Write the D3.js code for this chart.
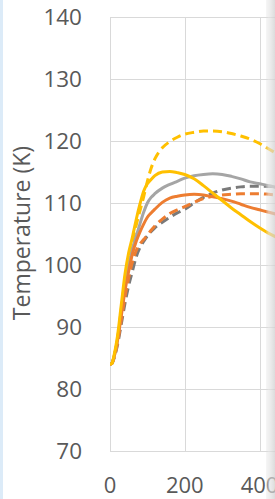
<!DOCTYPE html>
<html><head><meta charset="utf-8">
<script src="https://cdn.jsdelivr.net/npm/d3@7"></script>
<style>html,body{margin:0;padding:0;background:#fff;overflow:hidden}</style>
</head><body>
<svg id="c" width="275" height="499"></svg>
<script>
const timeValues = [0,5,10,20,30,40,50,60,70,80,90,100,110,120,140,160,180,200,225,250,275,300,325,350,375,400,425,445];
const yellowSolid = [84,84.1,85.2,88.5,93.5,98.5,102,104.5,107.3,109.8,111.9,113.1,113.8,114.4,115,115.1,114.9,114.6,113.9,112.8,111.6,110.4,109.2,108.1,107,106,105.1,104.5];
const yellowDashed = [84,84.1,85,88,92.8,97.5,101,103.8,106.4,108.7,111,113.5,115.6,117.1,118.9,119.9,120.6,121.1,121.4,121.6,121.6,121.5,121.2,120.8,120.3,119.6,118.7,118];
const graySolid = [84,84.1,85,88,92.2,96.5,100,102.6,104.6,106.6,108.5,110,110.9,111.5,112.4,113,113.5,114,114.4,114.6,114.7,114.6,114.3,113.9,113.4,113.1,112.8,112.5];
const orangeSolid = [84,84.1,85,87.8,91.7,95.8,99,101.8,103.8,105.3,106.6,107.7,108.4,109,110.1,110.8,111.1,111.3,111.4,111.3,111,110.7,110.3,109.8,109.3,108.9,108.5,108.2];
const orangeDashed = [84,84.1,84.9,87.4,91,94.8,97.9,100.5,102.3,103.4,104.1,104.8,105.6,106.3,107.4,108.3,108.9,109.4,110.1,110.7,111.1,111.3,111.4,111.5,111.5,111.5,111.4,111.3];
const grayDashed = [84,84.1,84.8,87.1,90.4,93.8,96.7,99,101.3,102.8,103.8,104.7,105.4,106,106.9,107.7,108.4,109,110,110.9,111.6,112.1,112.4,112.6,112.7,112.7,112.7,112.6];
const yTicks = [70,80,90,100,110,120,130,140];
const xTicks = [0,200,400];
const yTitle = "Temperature (K)";

const series = [
  {v: grayDashed, color: "#7a7a7a", dash: "9,5"},
  {v: orangeDashed, color: "#ED7D31", dash: "9,5"},
  {v: yellowDashed, color: "#FFC000", dash: "9,5"},
  {v: graySolid, color: "#A5A5A5", dash: null},
  {v: orangeSolid, color: "#ED7D31", dash: null},
  {v: yellowSolid, color: "#FFC000", dash: null}
];

const svg = d3.select("#c");
const x = d3.scaleLinear().domain([0,400]).range([110,259.5]);
const y = d3.scaleLinear().domain([70,140]).range([451,17]);
const plotRight = 275;

svg.append("rect").attr("x",0).attr("y",0).attr("width",3).attr("height",499).attr("fill","#dcebf8");

const grid = svg.append("g");
grid.selectAll(".hg").data(yTicks).join("line")
  .attr("x1",110).attr("x2",plotRight).attr("y1",d=>Math.round(y(d))+0.5).attr("y2",d=>Math.round(y(d))+0.5)
  .attr("stroke","#d9d9d9").attr("stroke-width",1);
grid.selectAll(".vg").data(xTicks).join("line")
  .attr("y1",y(140)).attr("y2",y(70)).attr("x1",d=>Math.round(x(d))+0.5).attr("x2",d=>Math.round(x(d))+0.5)
  .attr("stroke","#d9d9d9").attr("stroke-width",1);

svg.append("g").selectAll("text").data(yTicks).join("text")
  .attr("x",82).attr("y",d=>y(d)).attr("dy","0.36em").attr("text-anchor","end")
  .attr("font-family","'Open Sans', sans-serif").attr("font-size",22.5).attr("fill","#595959").text(d=>d);
svg.append("g").selectAll("text").data(xTicks).join("text")
  .attr("x",d=>x(d)).attr("y",493).attr("text-anchor","middle")
  .attr("font-family","'Open Sans', sans-serif").attr("font-size",22).attr("fill","#595959").text(d=>d);

svg.append("text").attr("transform","translate(30,233) rotate(-90)").attr("text-anchor","middle")
  .attr("font-family","'Open Sans', sans-serif").attr("font-size",23).attr("fill","#595959").text(yTitle);

svg.append("defs").append("clipPath").attr("id","clip").append("rect")
  .attr("x",110).attr("y",0).attr("width",plotRight-110).attr("height",499);

const line = d3.line().curve(d3.curveMonotoneX);
const lg = svg.append("g").attr("clip-path","url(#clip)");
series.forEach(s => {
  lg.append("path").attr("d", line(timeValues.map((t,i)=>[x(t), y(s.v[i])])))
    .attr("fill","none").attr("stroke",s.color).attr("stroke-width",3)
    .attr("stroke-dasharray",s.dash).attr("stroke-linecap", s.dash ? "butt" : "round");
});

const grad = svg.append("defs").append("linearGradient").attr("id","shade").attr("x1","0").attr("x2","1");
grad.append("stop").attr("offset","0").attr("stop-color","#d8d8d8").attr("stop-opacity",0.2);
grad.append("stop").attr("offset","0.3").attr("stop-color","#e6e6e6").attr("stop-opacity",0.6);
grad.append("stop").attr("offset","1").attr("stop-color","#d0d0d0").attr("stop-opacity",0.75);
svg.append("rect").attr("x",266).attr("y",0).attr("width",9).attr("height",499).attr("fill","url(#shade)");
</script>
</body></html>
